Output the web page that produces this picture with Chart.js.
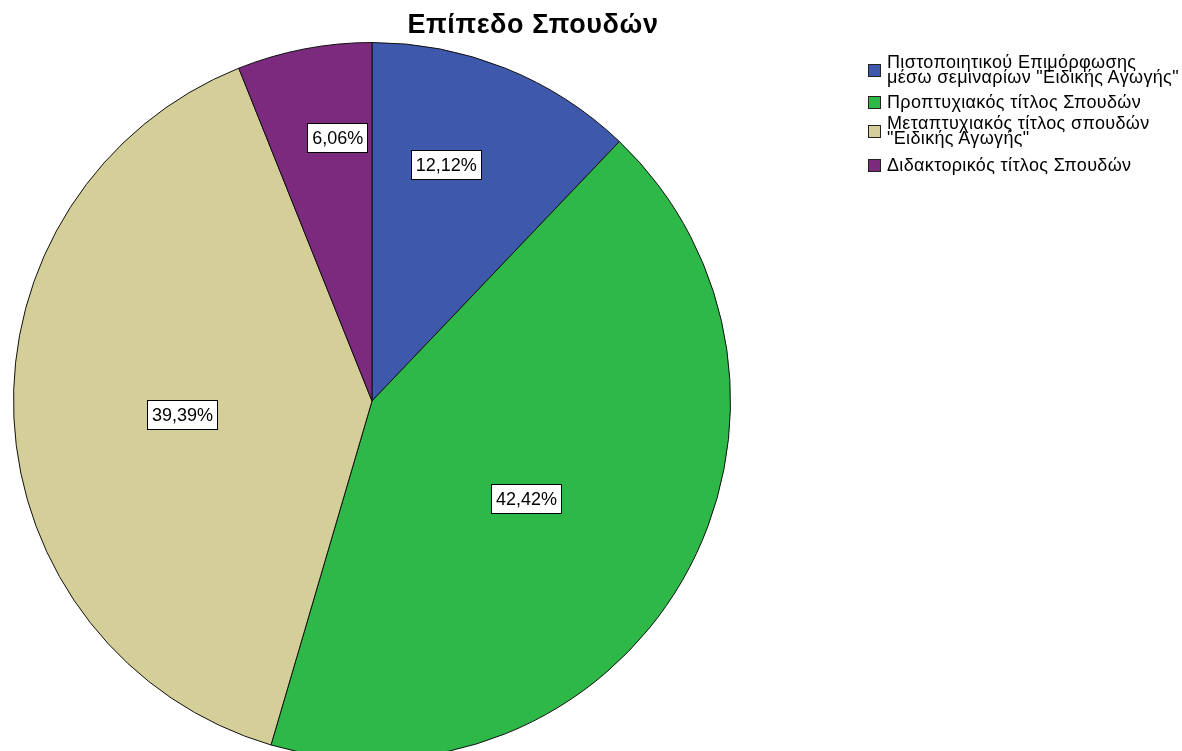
<!DOCTYPE html>
<html>
<head>
<meta charset="utf-8">
<script src="https://cdn.jsdelivr.net/npm/chart.js@4"></script>
<style>
  html, body { margin: 0; padding: 0; background: #fff; overflow: hidden; }
  #wrap { position: relative; width: 1182px; height: 751px; overflow: hidden; }
  #myChart { position: absolute; left: 0; top: 0; }
  #legend { position: absolute; left: 868px; top: 55px; font-family: "Liberation Sans", Arial, sans-serif; font-size: 18px; letter-spacing: 0.35px; color: #000; }
  .item { display: flex; align-items: center; }
  .box { width: 11px; height: 11px; border: 1px solid #222; margin-right: 6px; flex: none; }
  .txt { line-height: 15px; white-space: nowrap; }
</style>
</head>
<body>
<div id="wrap">
  <canvas id="myChart" width="1182" height="760"></canvas>
  <div id="legend"></div>
</div>
<script>
const chartTitle = 'Επίπεδο Σπουδών';

// legend labels, one array per category (lines as in the original)
const categories = [
    ['Πιστοποιητικού Επιμόρφωσης', 'μέσω σεμιναρίων "Ειδικής Αγωγής"'],
    ['Προπτυχιακός τίτλος Σπουδών'],
    ['Μεταπτυχιακός τίτλος σπουδών', '"Ειδικής Αγωγής"'],
    ['Διδακτορικός τίτλος Σπουδών']
];
// respondents per level (percentages in the picture: 12,12 / 42,42 / 39,39 / 6,06)
const counts = [4, 14, 13, 2];
const colors = ['#3E58AC', '#2EB848', '#D4CE98', '#7B2A7E'];

// where the percent box sits inside its slice: share of the slice angle, share of the radius
const labelSpots = [
    {along: 0.40, out: 0.69},
    {along: 0.515, out: 0.51},
    {along: 0.49, out: 0.53},
    {along: 0.66, out: 0.74}
];
// gaps under each legend item
const legendGaps = [10, 6, 12, 0];

const percentLabels = {
    id: 'percentLabels',
    afterDatasetsDraw(chart) {
        const ctx = chart.ctx;
        const meta = chart.getDatasetMeta(0);
        const data = chart.data.datasets[0].data;
        const total = data.reduce((a, b) => a + b, 0);
        ctx.save();
        ctx.font = '18px "Liberation Sans", Arial, sans-serif';
        ctx.textAlign = 'center';
        ctx.textBaseline = 'middle';
        meta.data.forEach((arc, i) => {
            const spot = labelSpots[i];
            const ang = arc.startAngle + (arc.endAngle - arc.startAngle) * spot.along;
            const r = arc.outerRadius * spot.out;
            const x = arc.x + Math.cos(ang) * r;
            const y = arc.y + Math.sin(ang) * r;
            const text = (data[i] / total * 100).toFixed(2).replace('.', ',') + '%';
            const w = ctx.measureText(text).width + 10;
            const h = 30;
            ctx.fillStyle = '#fff';
            ctx.fillRect(Math.round(x - w / 2), Math.round(y - h / 2), Math.round(w), h);
            ctx.strokeStyle = '#000';
            ctx.lineWidth = 1;
            ctx.strokeRect(Math.round(x - w / 2) + 0.5, Math.round(y - h / 2) + 0.5, Math.round(w) - 1, h - 1);
            ctx.fillStyle = '#000';
            ctx.fillText(text, x, y + 1);
        });
        // title
        ctx.font = 'bold 27px "Liberation Sans", Arial, sans-serif';
        ctx.letterSpacing = '0.6px';
        ctx.textBaseline = 'alphabetic';
        ctx.fillText(chartTitle, 533, 33);
        ctx.restore();
    }
};

let chart;
function renderChart() {
    const ctx = document.getElementById('myChart').getContext('2d');
    chart = new Chart(ctx, {
        type: 'pie',
        data: {
            labels: categories,
            datasets: [{
                data: counts,
                backgroundColor: colors,
                borderColor: '#111',
                borderWidth: 1
            }]
        },
        options: {
            responsive: false,
            animation: false,
            devicePixelRatio: 1,
            layout: { padding: { left: 13, top: 42, right: 451, bottom: 0 } },
            plugins: {
                legend: { display: false },
                tooltip: { enabled: false }
            }
        },
        plugins: [percentLabels]
    });
}

function loadLegend() {
    const legend = document.getElementById('legend');
    categories.forEach((lines, i) => {
        const item = document.createElement('div');
        item.className = 'item';
        item.style.marginBottom = legendGaps[i] + 'px';
        const box = document.createElement('div');
        box.className = 'box';
        box.style.background = colors[i];
        const txt = document.createElement('div');
        txt.className = 'txt';
        txt.innerHTML = lines.join('<br>');
        item.appendChild(box);
        item.appendChild(txt);
        legend.appendChild(item);
    });
}

renderChart();
loadLegend();
</script>
</body>
</html>
